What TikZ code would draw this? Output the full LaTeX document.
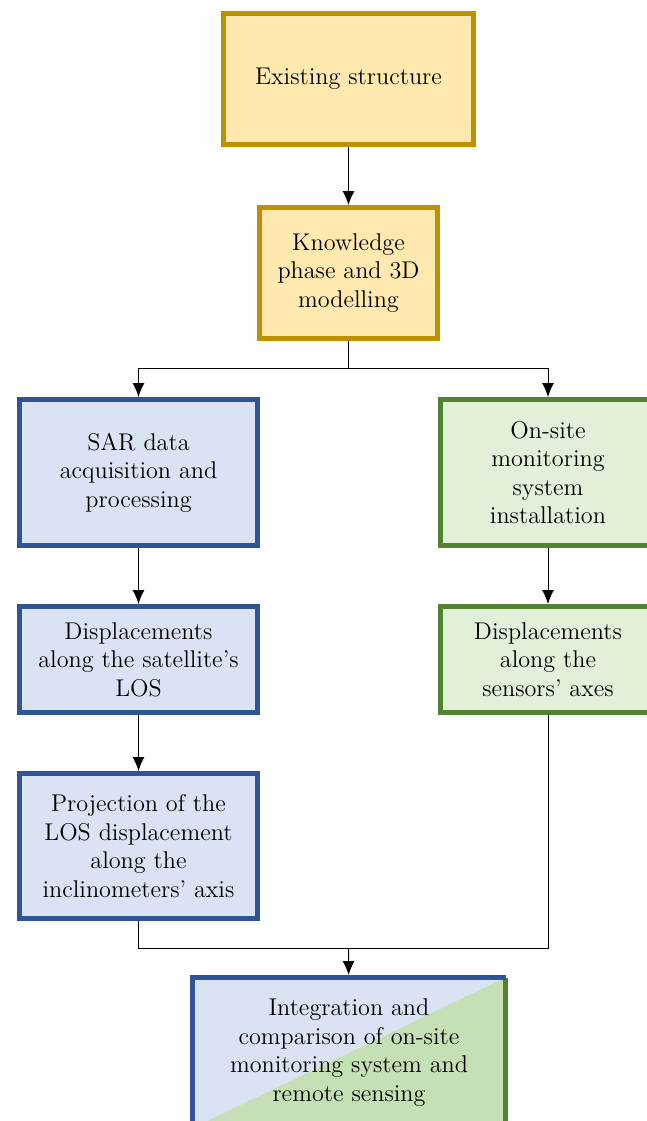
\documentclass[tikz,border=0pt]{standalone}
\usepackage{tikz}
\usetikzlibrary{arrows.meta, positioning}

\definecolor{goldline}{HTML}{BF9000}
\definecolor{goldfill}{HTML}{FFE9AF}
\definecolor{blueline}{HTML}{2F5597}
\definecolor{bluefill}{HTML}{DAE3F3}
\definecolor{greenline}{HTML}{548235}
\definecolor{greenfill}{HTML}{E2F0D9}
\definecolor{greenshade}{HTML}{C5E0B4}

\begin{document}
\begin{tikzpicture}[x=0.5pt, y=0.5pt,
  box/.style={rectangle, line width=2.5pt, align=center, inner sep=0pt,
              font=\fontsize{12.1}{14.3}\selectfont},
  goldbox/.style={box, draw=goldline, fill=goldfill},
  bluebox/.style={box, draw=blueline, fill=bluefill, minimum width=119pt},
  greenbox/.style={box, draw=greenline, fill=greenfill, minimum width=107.5pt},
  flow/.style={draw, line width=0.5pt, -{Latex[length=7pt,width=6pt]}},
  link/.style={draw, line width=0.5pt}
]
\useasboundingbox (0,0) rectangle (647,-1121);

\node [goldbox, minimum width=125pt, minimum height=65.5pt] at (348.5,-79) (exist) {Existing structure};
\node [goldbox, minimum width=89pt, minimum height=65.5pt, below=29pt of exist] (know) {Knowledge\\phase and 3D\\modelling};

\node [bluebox, minimum height=73pt] at (138.5,-472.5) (sar) {SAR data\\acquisition and\\processing};
\node [bluebox, minimum height=53pt, below=28pt of sar] (los) {Displacements\\along the satellite's\\LOS};
\node [bluebox, minimum height=72.5pt, below=28pt of los] (proj) {Projection of the\\LOS displacement\\along the\\inclinometers' axis};

\node [greenbox, minimum height=73pt] at (548,-472.5) (onsite) {On-site\\monitoring\\system\\installation};
\node [greenbox, minimum height=53pt, below=28pt of onsite] (sensors) {Displacements\\along the\\sensors' axes};

% split box: blue above the diagonal, green below
\node [box, outer sep=0pt, minimum width=156.5pt, minimum height=75.25pt] at (349,-1052.75) (integ) {};
\fill [bluefill] (integ.south west) -- (integ.north west) -- (integ.north east) -- cycle;
\fill [greenshade] (integ.south west) -- (integ.north east) -- (integ.south east) -- cycle;
\draw [greenline, line width=2.5pt, line cap=square] (integ.north east) -- (integ.south east) -- (integ.south west);
\draw [blueline, line width=2.5pt, line cap=square] (integ.south west) -- (integ.north west) -- (integ.north east);
\node [box] at (integ.center) (integtext) {Integration and\\comparison of on-site\\monitoring system and\\remote sensing};

\coordinate (split) at (348.5,-368);
\coordinate (merge) at (348.5,-948);

\path [flow] (exist) -- (know);
\path [link] (know) -- (split);
\path [flow] (split) -| (sar);
\path [flow] (split) -| (onsite);
\path [flow] (sar) -- (los);
\path [flow] (los) -- (proj);
\path [flow] (onsite) -- (sensors);
\path [link] (proj) |- (merge);
\path [link] (sensors) |- (merge);
\path [flow, shorten >=1.25pt] (merge) -- (integ);

\end{tikzpicture}
\end{document}
